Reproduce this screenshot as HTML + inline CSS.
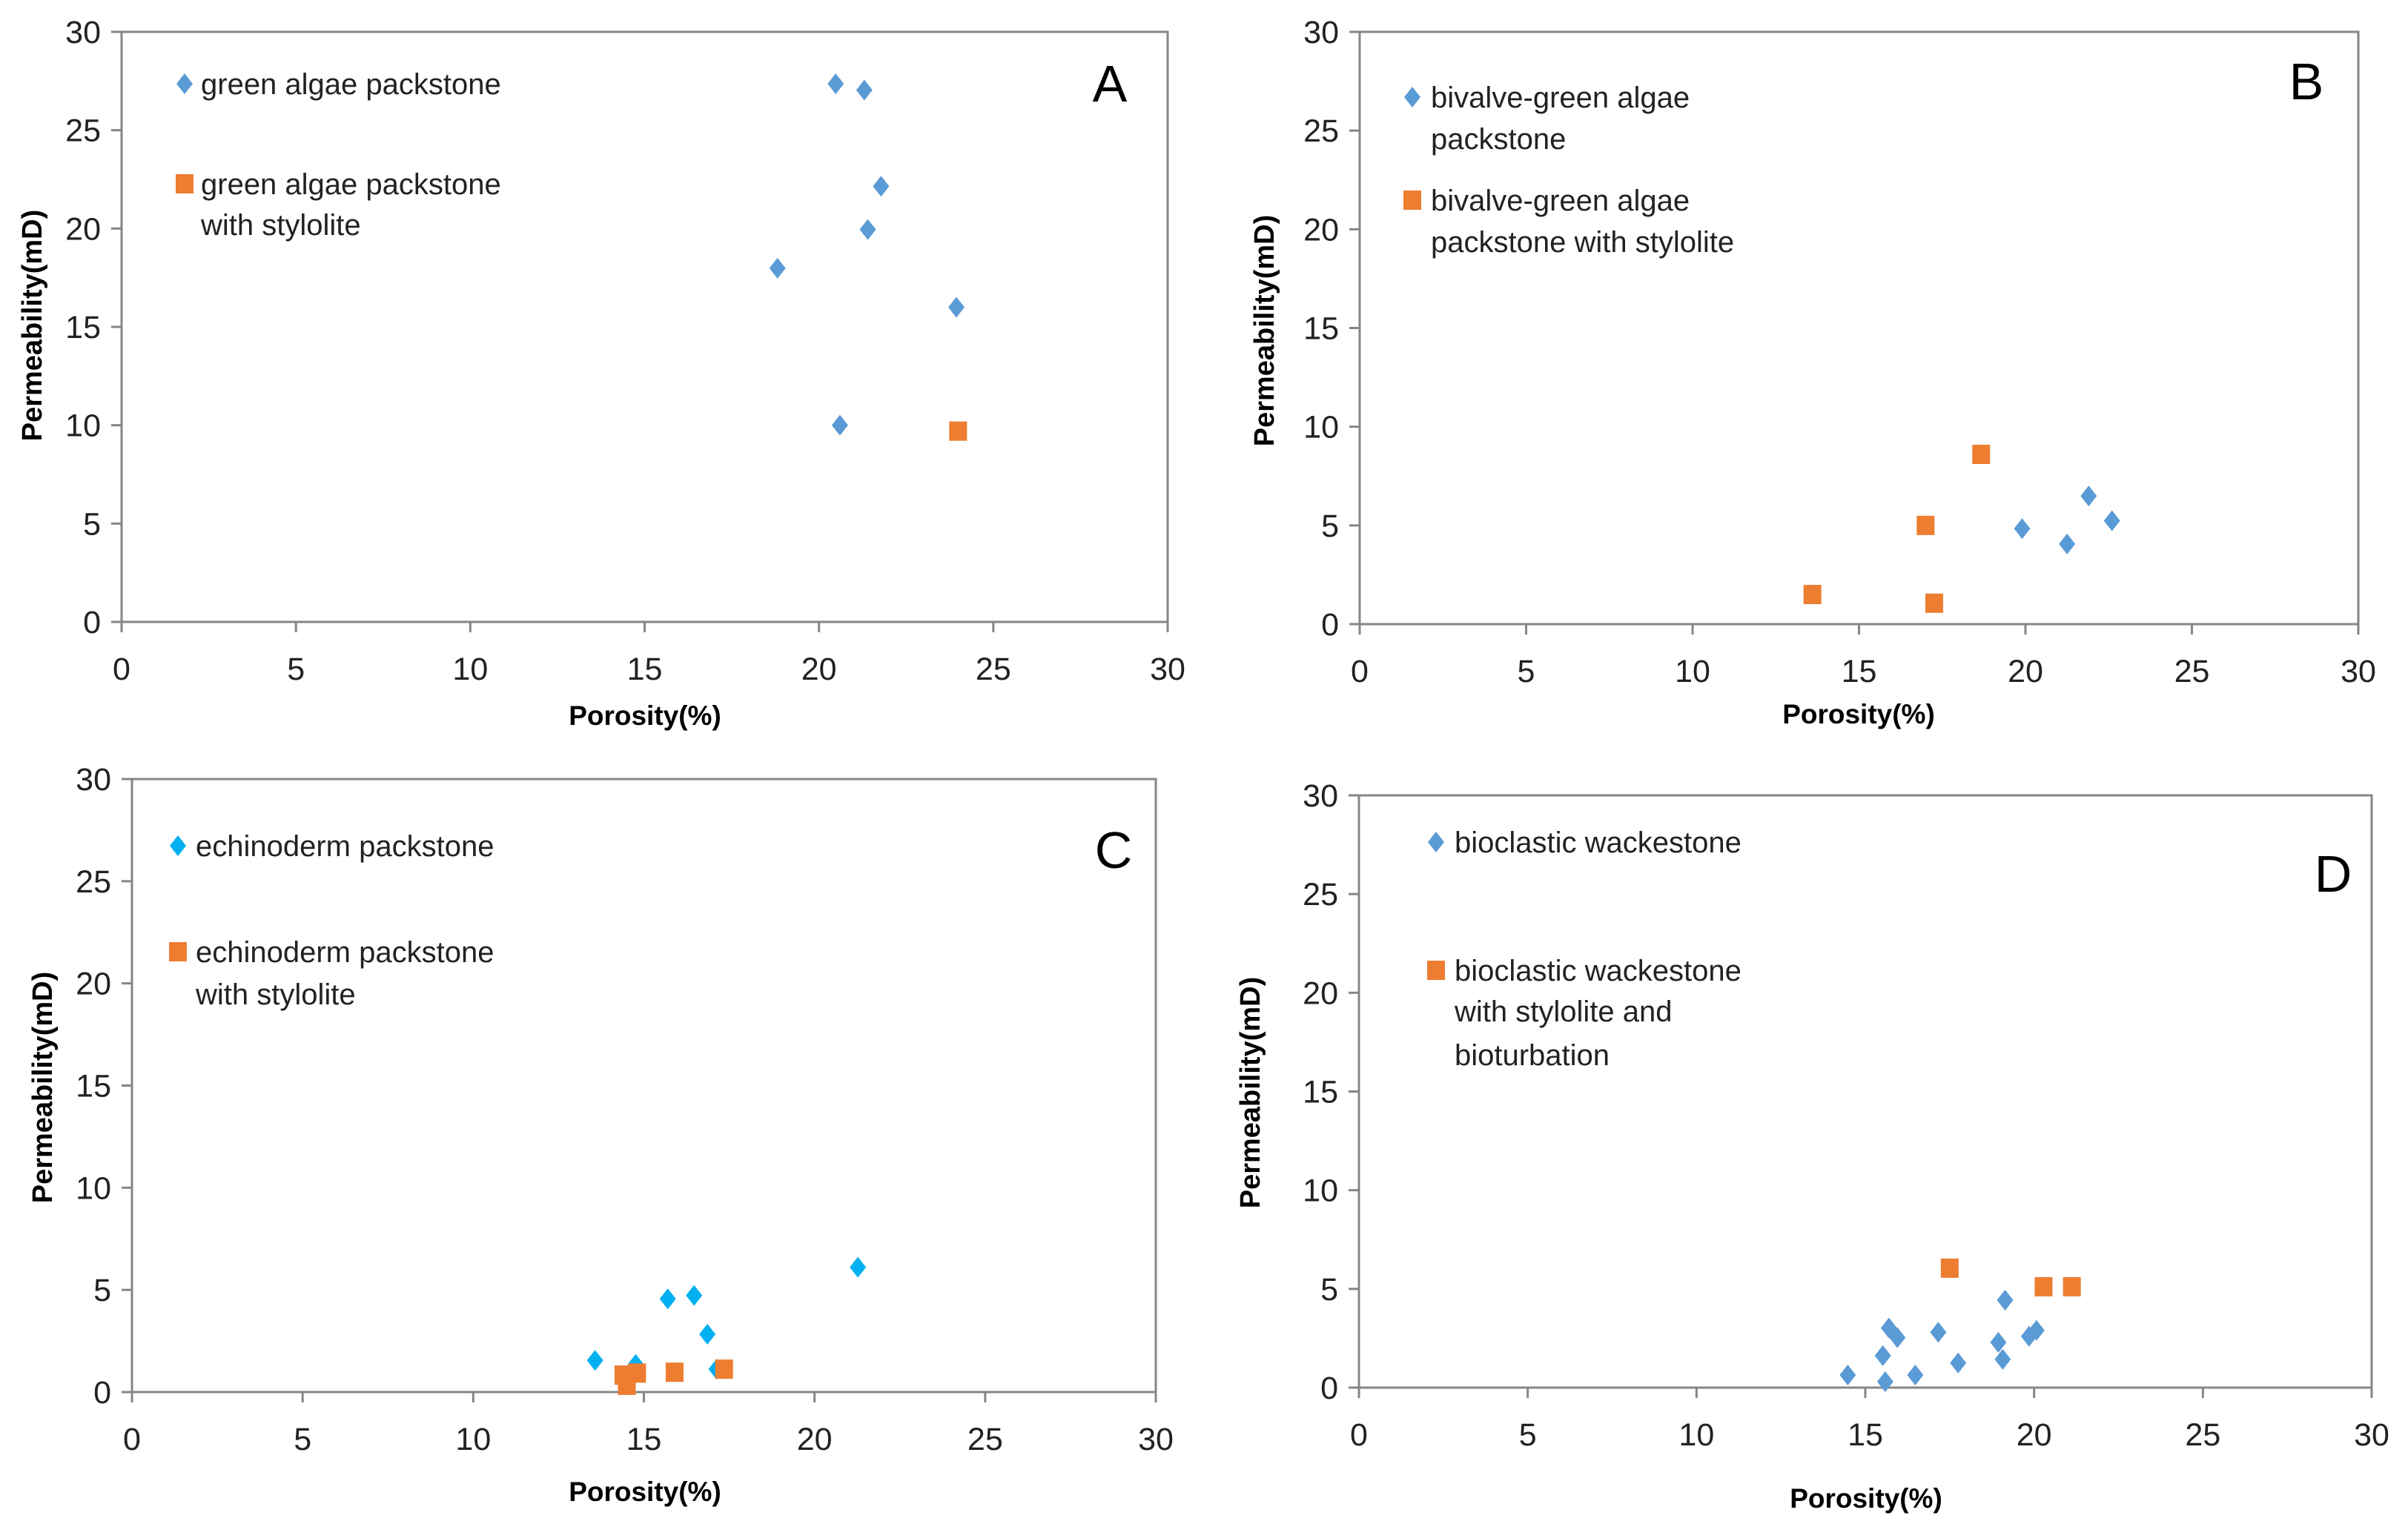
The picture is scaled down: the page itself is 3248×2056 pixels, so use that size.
<!DOCTYPE html>
<html><head><meta charset="utf-8"><style>
html,body{margin:0;padding:0;background:#fff}
svg{display:block}
text{font-family:"Liberation Sans",sans-serif}
</style></head><body>
<svg id="fig" width="3248" height="2056" viewBox="0 0 3248 2056" xmlns="http://www.w3.org/2000/svg"></svg>
<script>
const xTicks=[0,5,10,15,20,25,30];
const yTicks=[0,5,10,15,20,25,30];
// Panel A
const aBlueX=[20.48,21.3,21.78,21.4,18.81,23.94,20.6];
const aBlueY=[27.36,27.04,22.15,19.95,17.98,16.0,10.0];
const aOrX=[23.99];
const aOrY=[9.7];
// Panel B
const bBlueX=[19.9,21.25,21.9,22.6];
const bBlueY=[4.84,4.06,6.49,5.24];
const bOrX=[18.67,17.0,13.6,17.26];
const bOrY=[8.6,5.0,1.5,1.06];
// Panel C
const cBlueX=[13.57,15.7,16.47,16.86,21.27,14.76,17.13];
const cBlueY=[1.55,4.56,4.73,2.83,6.11,1.35,1.12];
const cOrX=[14.4,14.8,14.5,15.9,17.35];
const cOrY=[0.83,0.93,0.33,0.97,1.12];
// Panel D
const dBlueX=[14.48,15.52,15.59,15.7,15.95,16.48,17.16,17.75,18.94,19.07,19.14,19.85,20.07];
const dBlueY=[0.64,1.62,0.3,3.02,2.53,0.64,2.8,1.25,2.29,1.43,4.43,2.6,2.9];
const dOrX=[17.5,20.28,21.12];
const dOrY=[6.05,5.11,5.11];

const NS="http://www.w3.org/2000/svg";
const svg=document.getElementById('fig');
function mk(tag,attrs,parent,txt){const e=document.createElementNS(NS,tag);for(const k in attrs)e.setAttribute(k,attrs[k]);if(txt!==undefined)e.textContent=txt;(parent||svg).appendChild(e);return e;}
function diamond(g,cx,cy,c){return mk('polygon',{points:`${cx},${cy-14} ${cx+11},${cy} ${cx},${cy+14} ${cx-11},${cy}`,fill:c},g);}
function square(g,cx,cy){return mk('rect',{x:cx-12,y:cy-13,width:24,height:26,fill:'#ed7d31'},g);}

const panels=[
 {id:'a',x0:164,x1:1575,y0:839,y1:43,bx:aBlueX,by:aBlueY,ox:aOrX,oy:aOrY,blue:'#5b9bd5',
  yt:[43,439],xt:[870,978],letter:['A',1497,111],
  leg:{dx:249,dy:113,tx:271,l1:['green algae packstone'],l1y:[113],sy:248,l2:['green algae packstone','with stylolite'],l2y:[248,303]}},
 {id:'b',x0:1834,x1:3181,y0:842,y1:43,bx:bBlueX,by:bBlueY,ox:bOrX,oy:bOrY,blue:'#5b9bd5',
  yt:[1705,446],xt:[2507,976],letter:['B',3111,108],
  leg:{dx:1905,dy:131,tx:1930,l1:['bivalve-green algae','packstone'],l1y:[131,187],sy:270,l2:['bivalve-green algae','packstone with stylolite'],l2y:[270,326]}},
 {id:'c',x0:178,x1:1559,y0:1878,y1:1051,bx:cBlueX,by:cBlueY,ox:cOrX,oy:cOrY,blue:'#00b0f0',
  yt:[57,1467],xt:[870,2025],letter:['C',1502,1145],
  leg:{dx:240,dy:1141,tx:264,l1:['echinoderm packstone'],l1y:[1141],sy:1284,l2:['echinoderm packstone','with stylolite'],l2y:[1284,1341]}},
 {id:'d',x0:1833,x1:3199,y0:1872,y1:1073,bx:dBlueX,by:dBlueY,ox:dOrX,oy:dOrY,blue:'#5b9bd5',
  yt:[1686,1474],xt:[2517,2034],letter:['D',3147,1177],
  leg:{dx:1937,dy:1136,tx:1962,l1:['bioclastic wackestone'],l1y:[1136],sy:1309,l2:['bioclastic wackestone','with stylolite and','bioturbation'],l2y:[1309,1364,1423]}}
];

panels.forEach(p=>{
 const g=mk('g',{});
 
 
 const sx=v=>p.x0+(v-0)/30*(p.x1-p.x0);
 const sy=v=>p.y0-(v-0)/30*(p.y0-p.y1);
 const frame=mk('rect',{x:p.x0,y:p.y1,width:p.x1-p.x0,height:p.y0-p.y1,fill:'none',stroke:'#868686','stroke-width':3},g);
 
 
 xTicks.forEach(t=>{
  mk('line',{x1:sx(t),x2:sx(t),y1:p.y0,y2:p.y0+14,stroke:'#868686','stroke-width':3},g);
  const l=mk('text',{x:sx(t),y:p.y0+78,'font-size':43,'text-anchor':'middle',fill:'#222'},g,String(t));
  
  
 });
 yTicks.forEach(t=>{
  mk('line',{x1:p.x0-14,x2:p.x0,y1:sy(t),y2:sy(t),stroke:'#868686','stroke-width':3},g);
  const l=mk('text',{x:p.x0-28,y:sy(t)+15,'font-size':43,'text-anchor':'end',fill:'#222'},g,String(t));
  
  
 });
 const xt=mk('text',{x:p.xt[0],y:p.xt[1],'font-size':37,'font-weight':'bold','text-anchor':'middle',fill:'#000'},g,'Porosity(%)');
 
 
 const yt=mk('text',{x:p.yt[0],y:p.yt[1],'font-size':38,'font-weight':'bold','text-anchor':'middle',fill:'#000',transform:`rotate(-90 ${p.yt[0]} ${p.yt[1]}) translate(0 13)`},g,'Permeability(mD)');
 
 
 const lt=mk('text',{x:p.letter[1],y:p.letter[2]+26,'font-size':70,'text-anchor':'middle',fill:'#000'},g,p.letter[0]);
 
 
 const lg=mk('g',{},g);
 
 
 const ld=diamond(lg,p.leg.dx,p.leg.dy,p.blue);
 
 
 p.leg.l1.forEach((s,i)=>{const t=mk('text',{x:p.leg.tx,y:p.leg.l1y[i]+14,'font-size':40,fill:'#222'},lg,s);
  
  });
 const ls=square(lg,p.leg.dx,p.leg.sy);
 
 
 p.leg.l2.forEach((s,i)=>{const t=mk('text',{x:p.leg.tx,y:p.leg.l2y[i]+14,'font-size':40,fill:'#222'},lg,s);
  
  });
 p.bx.forEach((v,i)=>{const m=diamond(g,sx(v),sy(p.by[i]),p.blue);
  
  });
 p.ox.forEach((v,i)=>{const m=square(g,sx(v),sy(p.oy[i]));
  
  });
});
</script>
</body></html>
